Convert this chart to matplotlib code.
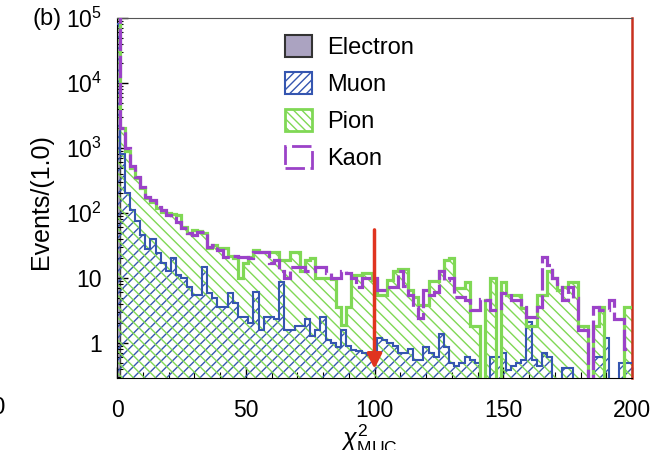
import numpy as np
import matplotlib
matplotlib.use("Agg")
import matplotlib.pyplot as plt
from matplotlib.patches import Patch
from matplotlib.ticker import LogLocator, MultipleLocator, NullFormatter

plt.rcParams['font.family'] = ['Liberation Sans', 'DejaVu Sans']
plt.rcParams['mathtext.fontset'] = 'custom'
plt.rcParams['mathtext.rm'] = 'Liberation Sans'
plt.rcParams['mathtext.it'] = 'Liberation Sans:italic'
plt.rcParams['hatch.linewidth'] = 1.0

# bins of width 2, centred on 0, 2, ..., 200
edges = np.arange(-1, 202, 2)

electron = [1.5e5]

muon = [8e4, 800, 200, 110, 75, 46, 28, 40, 24, 17,
        13, 20, 11, 10, 7.3, 5.5, 5.5, 15, 5.9, 4.9,
        3.6, 3.6, 5.9, 4.1, 2.5, 2.5, 2.0, 6.1, 1.6, 2.5,
        2.5, 2.3, 8.7, 1.6, 1.6, 1.8, 1.8, 2.3, 1.3, 1.6,
        2.5, 1.1, 1.0, 0.87, 1.6, 0.9, 0.78, 0.75, 0.7, 0.65,
        0.55, 1.2, 1.1, 1.0, 0.9, 0.7, 0.7, 0.8, 0.55, 0.55,
        0.87, 0.7, 0.6, 1.4, 0.87, 0.49, 0.45, 0.49, 0.6, 0.55,
        0.5, 0, 0, 0.6, 0.6, 0.7, 0.38, 0.45, 0.5, 0.55,
        2.1, 0.55, 0.45, 0.7, 0.6, 0, 0, 0.41, 0.41, 0,
        0, 0, 0, 0.6, 0.6, 1.2, 0, 0, 0.49, 0.49,
        0.49]

pion = [1.5e5, 2000, 900, 500, 340, 240, 170, 150, 120, 105,
        100, 96, 93, 60, 50, 55, 53, 50, 29, 32,
        29, 29, 22, 20, 10, 17, 21, 27, 25, 25,
        25, 25, 19, 19, 25, 25, 13, 19, 20, 10,
        10, 10, 9.5, 3.6, 1.9, 3.6, 11, 11, 12, 12,
        9.3, 5.5, 5.5, 9.3, 13, 14, 14, 6.5, 5.1, 3.8,
        3.8, 9, 9, 13, 19, 20, 7, 7, 8.7, 1.8,
        1.8, 0, 4.6, 10, 0, 8.7, 5.5, 5.5, 5.5, 3.5,
        1.8, 1.8, 5.5, 5.5, 13, 10, 6.5, 7.3, 8.7, 8.7,
        1.8, 1.8, 0, 1.8, 3.6, 0, 0, 0, 0, 3.6,
        3.6]

kaon = [1.5e5, 2000, 1000, 520, 360, 250, 175, 160, 125, 110,
        93, 84, 72, 59, 49, 46, 51, 51, 30, 32,
        27, 21, 21, 22, 21, 21, 20, 25, 25, 25,
        17, 19, 13, 10, 15, 15, 15, 13, 13, 15,
        15, 12, 10, 10, 13, 12, 10, 7.3, 10, 10,
        10, 6.5, 6.5, 7.3, 7.3, 13, 7.5, 5.5, 3.6, 2.4,
        6.5, 5.5, 6, 13, 9.3, 10, 5.1, 5.1, 4.6, 3.2,
        3.2, 4.8, 4.6, 3.2, 3.2, 5.9, 5.9, 4.6, 4.6, 3.6,
        2.5, 2.5, 3.6, 21, 16, 10, 8, 4.6, 7.3, 5,
        1.6, 1.6, 0, 3.6, 3.2, 3.2, 4.6, 2.3, 2.3, 0.8,
        0.8]

cut_value = 100
arrow_top, arrow_tip = 55, 0.4

c_ele = '#aba3c1'
c_mu = '#3556b0'
c_pi = '#80d855'
c_k = '#9b42c8'
c_red = '#e0341f'

fig = plt.figure(figsize=(6.53, 4.5), dpi=100)
ax = fig.add_axes([117 / 653, 72 / 450, 515 / 653, 360 / 450])
ax.set_yscale('log')

base = 1e-3


def clip(v):
    return np.clip(np.asarray(v, dtype=float), base, None)


ax.stairs(clip(electron), edges[:2], baseline=base, fill=True,
          facecolor=c_ele, edgecolor='#444444', lw=1.0, zorder=1)

ax.stairs(clip(muon), edges, baseline=base, fill=True, facecolor='none',
          edgecolor=c_mu, hatch='///', lw=0, zorder=2)
ax.stairs(clip(pion), edges, baseline=base, fill=True, facecolor='none',
          edgecolor=c_pi, hatch='\\\\\\', lw=0, zorder=2)
ax.stairs(clip(muon), edges, baseline=None, color=c_mu, lw=1.5, zorder=3)
ax.stairs(clip(pion), edges, baseline=None, color=c_pi, lw=2.3, zorder=4)
ax.stairs(clip(kaon), edges, baseline=None, color=c_k, lw=2.3,
          linestyle=(0, (7, 1.5)), zorder=5)

ax.annotate('', xy=(cut_value, arrow_tip), xytext=(cut_value, arrow_top),
            arrowprops=dict(arrowstyle='-|>', color=c_red, lw=2.5,
                            mutation_scale=22, shrinkA=0, shrinkB=0),
            zorder=6)

ax.set_xlim(0, 200)
ax.set_ylim(10 ** (5 - 360 / 65), 1e5)

ax.set_yticks([1, 10, 1e2, 1e3, 1e4, 1e5])
ax.set_yticklabels(['1', '10', r'$\mathregular{10^2}$', r'$\mathregular{10^3}$',
                    r'$\mathregular{10^4}$', r'$\mathregular{10^5}$'])
ax.yaxis.set_minor_locator(LogLocator(base=10, subs=np.arange(2, 10)))
ax.yaxis.set_minor_formatter(NullFormatter())
ax.set_xticks([0, 50, 100, 150, 200])
ax.xaxis.set_minor_locator(MultipleLocator(10))

ax.tick_params(which='major', direction='in', length=8, width=1.0,
               labelsize=16.5, pad=11)
ax.tick_params(which='minor', direction='in', length=4, width=0.8)
ax.tick_params(axis='x', which='major', pad=15)

ax.spines['top'].set_color('#555555')
ax.spines['right'].set_color('#c8301e')
ax.spines['right'].set_linewidth(1.8)

ax.set_ylabel('Events/(1.0)', fontsize=18)
ax.yaxis.set_label_coords(-0.125, 0.49)
ax.set_xlabel(r'$\chi^2_{\mathregular{MUC}}$', fontsize=18)
ax.xaxis.set_label_coords(0.49, -0.125)

fig.text(32 / 653, 1 - 19 / 450, '(b)', fontsize=17, va='center')
fig.text(6 / 653, 1 - 408 / 450, '200', fontsize=17, ha='right', va='center')

handles = [
    Patch(facecolor=c_ele, edgecolor='#333333', lw=1.5),
    Patch(facecolor='none', edgecolor=c_mu, hatch='////', lw=1.5),
    Patch(facecolor='none', edgecolor=c_pi, hatch='\\\\\\\\', lw=2),
    Patch(facecolor='none', edgecolor=c_k, lw=2, linestyle=(0, (7, 2))),
]
ax.legend(handles, ['Electron', 'Muon', 'Pion', 'Kaon'],
          loc='upper left', bbox_to_anchor=(285 / 653, 1 - 35 / 450),
          bbox_transform=fig.transFigure, frameon=False, fontsize=17,
          handlelength=1.15, handleheight=1.06, labelspacing=0.55,
          handletextpad=0.64, borderpad=0, borderaxespad=0)

fig.savefig('out.png', dpi=100)
